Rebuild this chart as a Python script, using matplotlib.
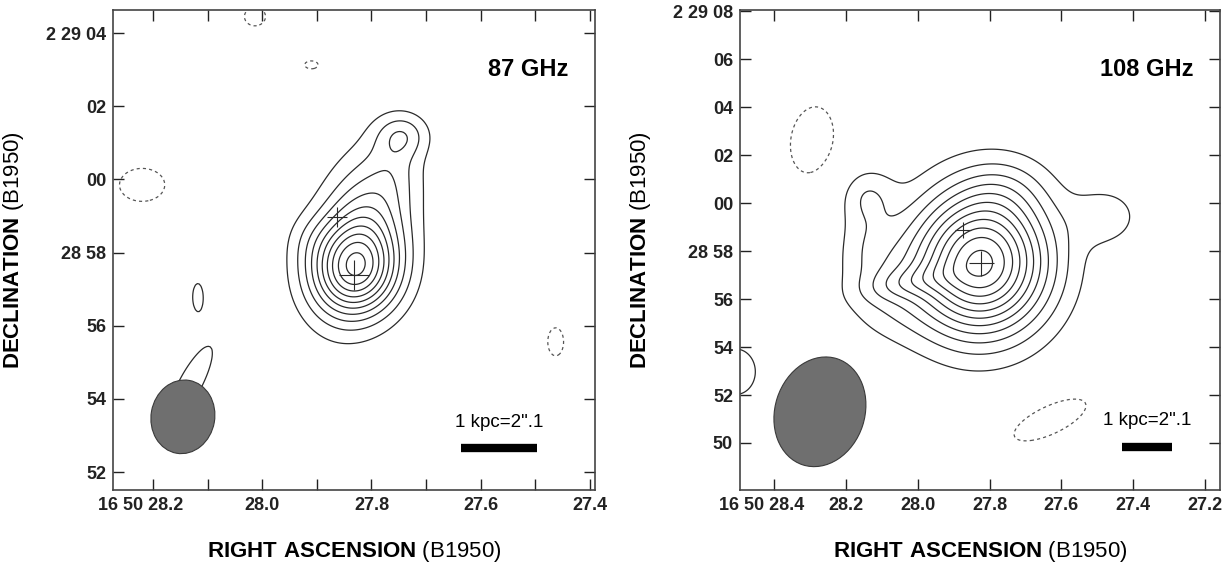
import numpy as np
import matplotlib.pyplot as plt
from matplotlib.patches import Ellipse
from matplotlib.transforms import ScaledTranslation

plt.rcParams['font.family'] = ['Liberation Sans', 'DejaVu Sans']
plt.rcParams['mathtext.fontset'] = 'custom'
plt.rcParams['mathtext.bf'] = 'Liberation Sans:bold'
plt.rcParams['mathtext.rm'] = 'Liberation Sans'

# offsets in arcsec from RA 16 50 27.8 / Dec 2 29 00 (B1950), east positive
RA_REF = 27.8

# ---- 87 GHz map: gaussian components (x, y, peak, sig_x, sig_y, pa) ----
c87_x = [0.45, 0.25, -0.85, -0.65, 1.7, 3.2, 1.65, 6.3, -5.06, 6.09, 4.77, 4.99]
c87_y = [-2.5, -1.5, 1.22, 0.4, -1.6, 4.45, 3.13, -0.15, -4.44, -7.26, -3.21, -5.62]
c87_amp = [6.5, 4.8, 2.1, 0.8, 0.5, -1.3, -1.3, -1.5, -1.3, -1.4, 1.4, 1.4]
c87_sx = [0.85, 0.85, 0.5, 0.5, 0.5, 0.4, 0.26, 0.69, 0.3, 0.42, 0.17, 0.38]
c87_sy = [0.85, 1.5, 0.42, 0.7, 0.5, 0.35, 0.15, 0.5, 0.53, 0.58, 0.44, 1.44]
c87_pa = [0, 15, 0, 0, 0, 0, 0, 0, 0, 0, 0, 28]
lev87 = [1, 2, 3, 4, 5, 6, 7, 8, 9, 10]

# ---- 108 GHz map ----
c108_x = [0.36, -4.9, -0.6, 4.4, 5.2, 3.4, 5.1, 7.42, -2.52, 10.6]
c108_y = [-2.49, -0.55, 0.6, -3.4, -1.4, -3.3, 0.35, 2.63, -9.03, -7.03]
c108_amp = [11.3, 1.5, 1.0, 1.5, 0.9, 1.4, 1.6, -1.5, -1.5, 1.5]
c108_sx = [1.95, 1.0, 1.3, 1.4, 0.8, 1.3, 0.8, 0.98, 1.85, 0.9]
c108_sy = [2.05, 0.85, 1.0, 1.5, 1.1, 0.45, 0.8, 1.55, 0.67, 1.05]
c108_pa = [10, 0, 0, 0, 0, -10, 0, 10, -25, 0]
lev108 = [1, 2, 3, 4, 5, 6, 7, 8, 9, 10, 11]

# crosses (x, y, size in pt)
cross87_x = [0.47, 0.94]
cross87_y = [-2.6, -1.03]
cross87_s = [22, 14]
cross108_x = [0.36, 1.11]
cross108_y = [-2.49, -1.12]
cross108_s = [18, 11]

# beams (x, y, width, height, angle)
beam87 = [5.18, -6.49, 1.75, 2.02, 10]
beam108 = [7.09, -8.7, 3.75, 4.65, 18]

# scale bars 1 kpc = 2".1
bar87_x = [-2.46, -4.56]
bar87_y = [-7.34, -7.34]
bar108_x = [-5.53, -7.63]
bar108_y = [-10.16, -10.16]

# axes ranges
xlim87 = [7.1, -6.14]
ylim87 = [-8.49, 4.63]
xlim108 = [10.43, -9.63]
ylim108 = [-11.96, 8.05]

ra87_ticks = [28.2, 28.1, 28.0, 27.9, 27.8, 27.7, 27.6, 27.5, 27.4]
ra87_labels = ['16 50 28.2', '', '28.0', '', '27.8', '', '27.6', '', '27.4']
dec87_ticks = [4, 2, 0, -2, -4, -6, -8]
dec87_labels = ['2 29 04', '02', '00', '28 58', '56', '54', '52']
ra108_ticks = [28.4, 28.2, 28.0, 27.8, 27.6, 27.4, 27.2]
ra108_labels = ['16 50 28.4', '28.2', '28.0', '27.8', '27.6', '27.4', '27.2']
dec108_ticks = [8, 6, 4, 2, 0, -2, -4, -6, -8, -10]
dec108_labels = ['2 29 08', '06', '04', '02', '00', '28 58', '56', '54', '52', '50']


def model(xx, yy, xs, ys, amps, sxs, sys_, pas):
    z = np.zeros_like(xx)
    for x0, y0, a, sx, sy, pa in zip(xs, ys, amps, sxs, sys_, pas):
        t = np.radians(pa)
        dx = xx - x0
        dy = yy - y0
        u = dx * np.cos(t) + dy * np.sin(t)
        v = -dx * np.sin(t) + dy * np.cos(t)
        z += a * np.exp(-0.5 * ((u / sx) ** 2 + (v / sy) ** 2))
    return z


def draw_panel(ax, comps, levels, crosses, beam, bar, xlim, ylim,
               rticks, rlabels, dticks, dlabels, freq):
    gx = np.linspace(-13, 13, 520)
    gy = np.linspace(-14, 10, 480)
    xx, yy = np.meshgrid(gx, gy)
    z = model(xx, yy, *comps)
    ax.contour(gx, gy, z, levels=levels, colors='#2a2a2a',
               linewidths=0.9, linestyles='solid')
    ax.contour(gx, gy, z, levels=[-1], colors='#555555',
               linewidths=0.9, linestyles=[(0, (2.5, 2.5))])
    for cx, cy, cs in zip(*crosses):
        ax.plot(cx, cy, marker='+', ms=cs, mew=0.8, color='#2a2a2a')
    e = Ellipse((beam[0], beam[1]), beam[2], beam[3], angle=beam[4],
                facecolor='#6f6f6f', edgecolor='#3a3a3a', lw=0.8, zorder=5)
    ax.add_patch(e)
    ax.plot(bar[0], bar[1], color='black', lw=6, solid_capstyle='butt', zorder=6)
    ax.text(np.mean(bar[0]), bar[1][0] + 0.054 * (ylim[1] - ylim[0]),
            '1 kpc=2".1', ha='center', va='center', fontsize=13.5, zorder=6)
    ax.text(0.944, 0.875, freq, transform=ax.transAxes, ha='right',
            va='center', fontsize=17, fontweight='bold')

    ax.set_xlim(xlim)
    ax.set_ylim(ylim)
    ax.set_aspect('auto')
    ax.set_xticks([(r - RA_REF) * 15 for r in rticks])
    ax.set_xticklabels(rlabels)
    ax.set_yticks(dticks)
    ax.set_yticklabels(dlabels)
    ax.tick_params(direction='in', top=True, right=True, length=8,
                   width=1, labelsize=13, pad=5, colors='#222222')
    for lab in ax.get_xticklabels() + ax.get_yticklabels():
        lab.set_fontweight('bold')
    # first RA label carries the hours/minutes and sits to the left
    first = ax.get_xticklabels()[0]
    first.set_horizontalalignment('right')
    first.set_transform(first.get_transform() +
                        ScaledTranslation(0.30, 0, ax.figure.dpi_scale_trans))
    for sp in ax.spines.values():
        sp.set_linewidth(1.2)
        sp.set_color('#444444')
    ax.set_xlabel(r'$\mathbf{RIGHT\ ASCENSION}$ (B1950)', fontsize=16, labelpad=18)
    ax.set_ylabel(r'$\mathbf{DECLINATION}$ (B1950)', fontsize=16, labelpad=14)


fig = plt.figure(figsize=(12.3, 5.72), dpi=100)
ax1 = fig.add_axes([113 / 1230, 82 / 572, 482 / 1230, 480 / 572])
ax2 = fig.add_axes([740 / 1230, 82 / 572, 480 / 1230, 480 / 572])

draw_panel(ax1, (c87_x, c87_y, c87_amp, c87_sx, c87_sy, c87_pa), lev87,
           (cross87_x, cross87_y, cross87_s), beam87, (bar87_x, bar87_y),
           xlim87, ylim87, ra87_ticks, ra87_labels, dec87_ticks, dec87_labels,
           '87 GHz')
draw_panel(ax2, (c108_x, c108_y, c108_amp, c108_sx, c108_sy, c108_pa), lev108,
           (cross108_x, cross108_y, cross108_s), beam108, (bar108_x, bar108_y),
           xlim108, ylim108, ra108_ticks, ra108_labels, dec108_ticks,
           dec108_labels, '108 GHz')

fig.savefig('out.png', dpi=100)
